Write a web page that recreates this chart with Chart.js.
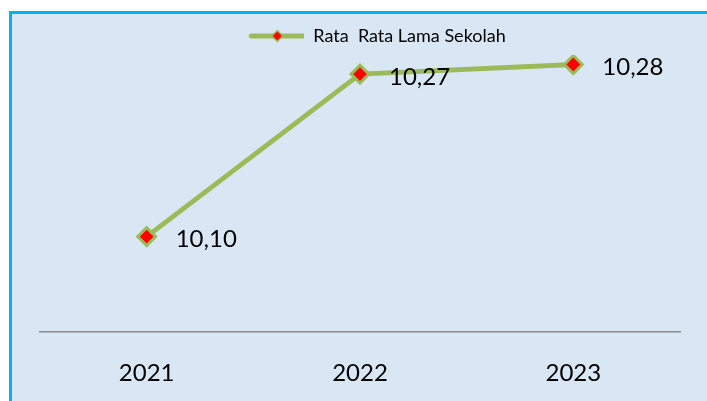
<!DOCTYPE html>
<html>
<head>
<meta charset="utf-8">
<script src="https://cdn.jsdelivr.net/npm/chart.js@4"></script>
<style>
  html, body { margin: 0; padding: 0; background: #ffffff; }
  #wrap { position: relative; width: 707px; height: 401px; overflow: hidden; }
  #frame {
    position: absolute; left: 9px; top: 11px; right: 0; bottom: 0;
    background: #d9e7f5;
    border-top: 3px solid #00b0f0;
    border-left: 3px solid #00b0f0;
  }
  #chart { position: absolute; left: 0; top: 0; }
</style>
</head>
<body>
<div id="wrap">
  <div id="frame"></div>
  <canvas id="chart" width="707" height="401"></canvas>
</div>
<script>
const years = ["2021", "2022", "2023"];
const rataLamaSekolah = [10.10, 10.27, 10.28];
const seriesLabel = "Rata  Rata Lama Sekolah";

const GREEN = "#9bbb59";
const RED = "#ff0000";

// legend sample: green line with a small red diamond in the middle
// (left part of the canvas is left empty to nudge the legend to the right)
function legendSymbol() {
  const c = document.createElement("canvas");
  c.width = 90; c.height = 14;
  const g = c.getContext("2d");
  const x0 = 37;
  g.strokeStyle = GREEN; g.lineWidth = 5; g.lineCap = "round";
  g.beginPath(); g.moveTo(x0, 7); g.lineTo(x0 + 52, 7); g.stroke();
  const cx = x0 + 26;
  g.fillStyle = RED; g.strokeStyle = GREEN; g.lineWidth = 1.5;
  g.beginPath(); g.moveTo(cx, 1.5); g.lineTo(cx + 5.5, 7); g.lineTo(cx, 12.5); g.lineTo(cx - 5.5, 7); g.closePath();
  g.fill(); g.stroke();
  return c;
}

const valueLabels = {
  id: "valueLabels",
  afterDatasetsDraw(chart) {
    const ctx = chart.ctx;
    const meta = chart.getDatasetMeta(0);
    ctx.save();
    ctx.font = "24px Lato";
    ctx.fillStyle = "#000";
    ctx.textAlign = "left";
    ctx.textBaseline = "middle";
    meta.data.forEach((pt, i) => {
      const v = chart.data.datasets[0].data[i].toFixed(2).replace(".", ",");
      ctx.fillText(v, pt.x + 29, pt.y + 3);
    });
    ctx.restore();
  }
};

const sym = legendSymbol();

new Chart(document.getElementById("chart"), {
  type: "line",
  data: {
    labels: years,
    datasets: [{
      label: seriesLabel,
      data: rataLamaSekolah,
      borderColor: GREEN,
      borderWidth: 5,
      tension: 0,
      pointStyle: "rectRot",
      pointRadius: 9,
      pointHoverRadius: 9,
      pointBackgroundColor: RED,
      pointBorderColor: GREEN,
      pointBorderWidth: 3,
      fill: false,
    }],
  },
  options: {
    responsive: false,
    animation: false,
    events: [],
    layout: { padding: { left: 40, right: 27, top: 24, bottom: -14 } },
    plugins: {
      legend: {
        display: true,
        position: "top",
        labels: {
          usePointStyle: true,
          pointStyleWidth: 90,
          boxHeight: 14,
          padding: 3,
          color: "#000",
          font: { family: "Lato", size: 18 },
          generateLabels: (chart) => [{
            text: seriesLabel,
            pointStyle: sym,
            fillStyle: RED,
            strokeStyle: GREEN,
            lineWidth: 0,
            datasetIndex: 0,
          }],
        },
      },
      tooltip: { enabled: false },
    },
    scales: {
      x: {
        offset: true,
        grid: { display: false, drawTicks: false },
        border: { display: true, color: "#8c8c8c", width: 1.5 },
        ticks: { color: "#000", font: { family: "Lato", size: 24 }, padding: 27 },
      },
      y: {
        display: false,
        min: 10.0,
        max: 10.29,
      },
    },
  },
  plugins: [valueLabels],
});
</script>
</body>
</html>
